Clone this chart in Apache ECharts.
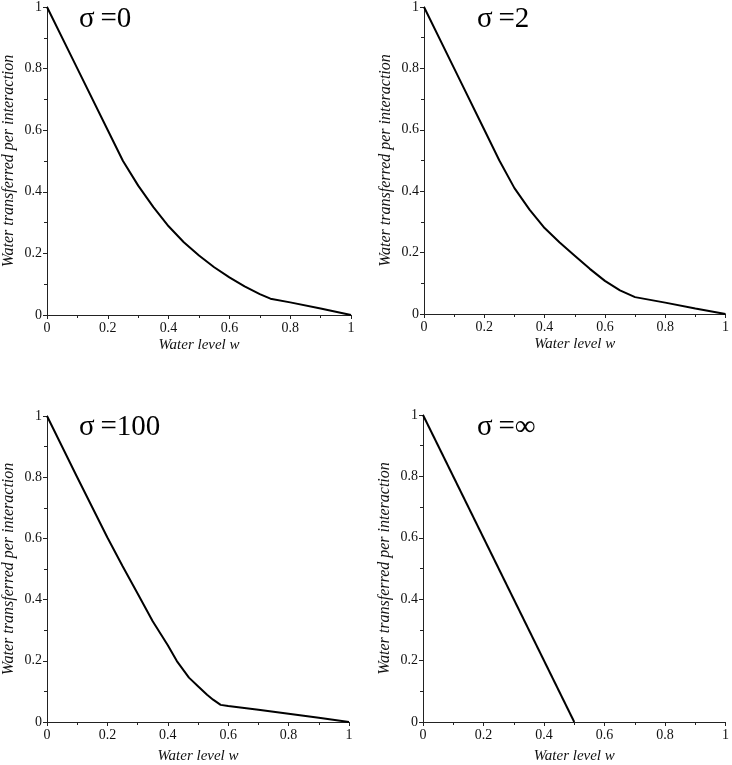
<!DOCTYPE html>
<html>
<head>
<meta charset="utf-8">
<script src="https://cdn.jsdelivr.net/npm/echarts@6/dist/echarts.min.js"></script>
<style>html,body{margin:0;padding:0;background:#fff}#c{width:732px;height:765px}</style>
</head>
<body>
<div id="c"></div>
<script>
var titles = ['\u03c3\u2009=0', '\u03c3\u2009=2', '\u03c3\u2009=100', '\u03c3\u2009=\u221e'];
var xName = 'Water level w';
var yName = 'Water transferred per interaction';
var xTicks = [0, 0.2, 0.4, 0.6, 0.8, 1];

var sigma0 = [[0,1],[0.1,0.8],[0.2,0.6],[0.25,0.5],[0.3,0.42],[0.35,0.35],[0.4,0.288],[0.45,0.236],[0.5,0.193],[0.55,0.155],[0.6,0.122],[0.65,0.093],[0.7,0.068],[0.735,0.053],[0.8,0.041],[0.9,0.021],[1,0]];
var sigma2 = [[0,1],[0.1,0.8],[0.2,0.6],[0.25,0.5],[0.3,0.41],[0.35,0.34],[0.4,0.28],[0.45,0.233],[0.5,0.19],[0.55,0.147],[0.6,0.108],[0.65,0.077],[0.7,0.055],[0.8,0.037],[0.9,0.018],[1,0]];
var sigma100 = [[0,1],[0.1,0.8],[0.2,0.603],[0.25,0.51],[0.3,0.42],[0.35,0.329],[0.4,0.251],[0.43,0.199],[0.47,0.145],[0.5,0.117],[0.53,0.089],[0.55,0.073],[0.575,0.056],[0.6,0.052],[0.7,0.04],[0.8,0.027],[0.9,0.014],[1,0]];
var sigmaInf = [[0,1],[0.5,0]];
var allSeries = [sigma0, sigma2, sigma100, sigmaInf];

var grids = [
  {left:45, top:7, width:306, height:308},
  {left:424, top:7, width:305, height:307},
  {left:44, top:416, width:305, height:308},
  {left:423, top:415, width:307, height:308}
];
var titlePos = [{left:74, top:0},{left:472, top:0},{left:74, top:408},{left:472, top:408}];
var xGap = [23, 23, 27, 27];

var font = 'Liberation Serif';
var opt = {
  backgroundColor: '#fff',
  animation: false,
  title: [], grid: [], xAxis: [], yAxis: [], series: []
};
for (var i = 0; i < 4; i++) {
  opt.grid.push(grids[i]);
  opt.title.push({text: titles[i], left: titlePos[i].left, top: titlePos[i].top,
    textStyle:{fontFamily:font, fontSize:29, fontWeight:'normal', color:'#000'}});
  var axisCommon = {
    gridIndex: i, type: 'value', min: 0, max: 1, interval: 0.2,
    splitLine: {show:false},
    axisLine: {show:true, lineStyle:{color:'#222', width:1}},
    axisTick: {show:true, length:4, lineStyle:{color:'#222'}},
    minorTick: {show:true, splitNumber:2, length:3, lineStyle:{color:'#222'}},
    axisLabel: {fontFamily:font, fontSize:14, color:'#111'},
    nameLocation: 'middle',
    nameTextStyle: {fontFamily:font, fontSize:15, fontStyle:'italic', color:'#111'}
  };
  opt.xAxis.push(Object.assign({}, axisCommon, {name: xName, nameGap: xGap[i],
    axisLabel: Object.assign({}, axisCommon.axisLabel, {margin:6})}));
  opt.yAxis.push(Object.assign({}, axisCommon, {name: yName, nameGap: 30,
    nameTextStyle: {fontFamily:font, fontSize:16, fontStyle:'italic', color:'#111'},
    axisLabel: Object.assign({}, axisCommon.axisLabel, {margin:5})}));
  opt.series.push({type:'line', xAxisIndex:i, yAxisIndex:i, data: allSeries[i],
    showSymbol:false, symbol:'none', smooth:false,
    lineStyle:{color:'#000', width:2}});
}
var chart = echarts.init(document.getElementById('c'), null, {renderer:'canvas'});
chart.setOption(opt);
</script>
</body>
</html>
